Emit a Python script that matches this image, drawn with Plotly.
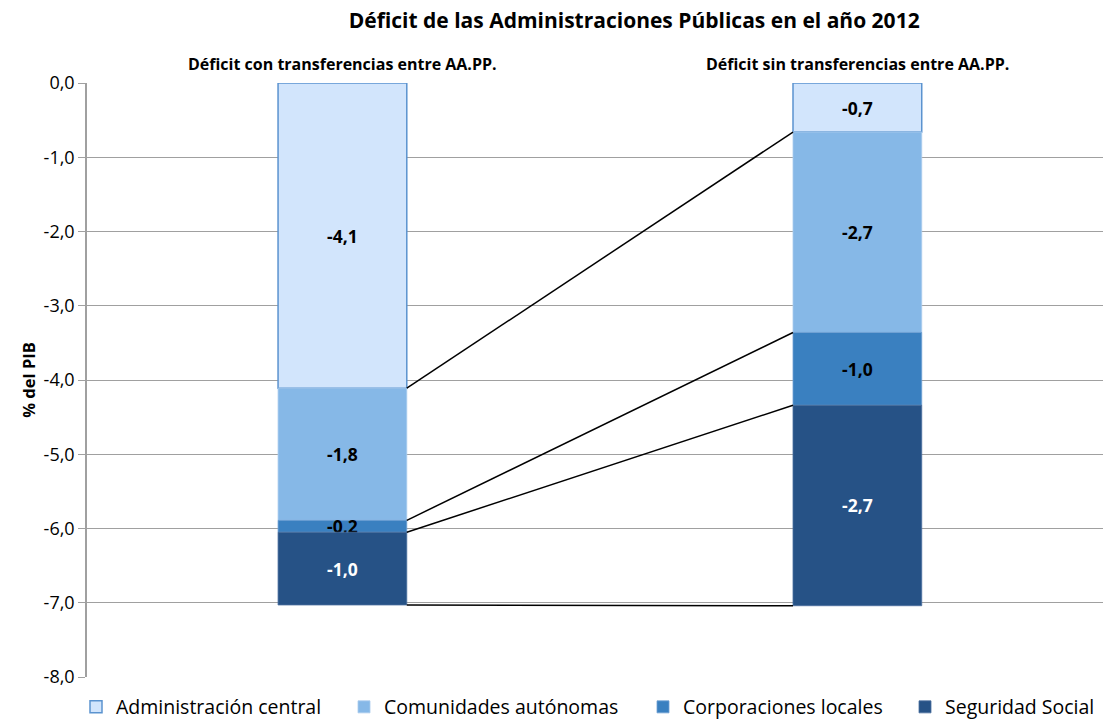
import plotly.graph_objects as go

categories = ["Déficit con transferencias entre AA.PP.", "Déficit sin transferencias entre AA.PP."]
series_names = ["Administración central", "Comunidades autónomas", "Corporaciones locales", "Seguridad Social"]
admin_central = [-4.11, -0.66]
comunidades = [-1.78, -2.70]
corporaciones = [-0.16, -0.98]
seguridad_social = [-0.98, -2.70]
y_ticks = [0, -1, -2, -3, -4, -5, -6, -7, -8]
y_tick_labels = [f"{v:.1f}".replace(".", ",") for v in y_ticks]

series_values = [admin_central, comunidades, corporaciones, seguridad_social]
fill_colors = ["#D2E5FC", "#86B8E7", "#3A80C0", "#265286"]
edge_colors = ["#5B93CF", "#A9CBEE", "#6FA0D3", "#4A6F9E"]
edge_widths = [1.5, 0.8, 0.8, 0.8]
text_colors = ["black", "black", "black", "white"]
legend_ids = ["legend", "legend2", "legend3", "legend4"]
legend_left_px = [76, 344, 643, 905]

xpos = [0, 1]
bar_w = 0.25
font = "'Open Sans', Lato, sans-serif"
plot_l, plot_w = 87, 1016

fig = go.Figure()
for name, vals, fc, ec, ew, tc, lg in zip(series_names, series_values, fill_colors, edge_colors,
                                          edge_widths, text_colors, legend_ids):
    fig.add_trace(go.Bar(
        x=xpos, y=vals, name=name, width=bar_w, legend=lg,
        marker=dict(color=fc, line=dict(color=ec, width=ew)),
        texttemplate="<b>%{y:.1f}</b>", textposition="inside",
        insidetextanchor="middle", constraintext="none",
        textfont=dict(color=tc, size=17.5, family=font),
        hoverinfo="skip",
    ))

# connector lines between cumulative boundaries
cum_left, cum_right = 0.0, 0.0
for vals in series_values:
    cum_left += vals[0]
    cum_right += vals[1]
    fig.add_shape(type="line", xref="x", yref="y",
                  x0=xpos[0] + bar_w / 2, y0=cum_left,
                  x1=xpos[1] - bar_w / 2, y1=cum_right,
                  line=dict(color="black", width=1.5))

for xp, cat in zip(xpos, categories):
    fig.add_annotation(x=xp, y=1.0, xref="x", yref="paper", yanchor="bottom",
                       yshift=6, text="<b>" + cat + "</b>", showarrow=False,
                       font=dict(size=16, family=font, color="black"))

legend_layout = {}
for lg, px in zip(legend_ids, legend_left_px):
    legend_layout[lg] = dict(orientation="h", x=(px - plot_l) / plot_w, xanchor="left",
                             y=-0.018, yanchor="top", itemclick=False,
                             bgcolor="rgba(0,0,0,0)",
                             font=dict(size=19.5, family=font, color="black"))

fig.update_layout(
    width=1103, height=727,
    margin=dict(l=87, r=0, t=83, b=50),
    paper_bgcolor="white", plot_bgcolor="white",
    barmode="relative",
    separators=",.",
    title=dict(text="<b>Déficit de las Administraciones Públicas en el año 2012</b>",
               x=0.575, xanchor="center", y=0.972, yanchor="middle",
               font=dict(size=21, family=font, color="black")),
    font=dict(family=font, color="black"),
    uniformtext=dict(minsize=17.5, mode="show"),
    showlegend=True,
    xaxis=dict(range=[-0.496, 1.477], showticklabels=False, showgrid=False,
               zeroline=False, showline=False, ticks="", fixedrange=True),
    yaxis=dict(range=[-8, 0], tickvals=y_ticks, ticktext=y_tick_labels,
               showgrid=True, gridcolor="#A0A0A0", gridwidth=1.2,
               zeroline=False, showline=True, linecolor="#A0A0A0", linewidth=1.5,
               ticks="outside", ticklen=7, tickcolor="#A0A0A0",
               tickfont=dict(size=18, family=font, color="black"),
               title=dict(text="<b>% del PIB</b>", standoff=4,
                          font=dict(size=16.5, family=font, color="black"))),
    **legend_layout,
)

fig.write_html("out.html")
